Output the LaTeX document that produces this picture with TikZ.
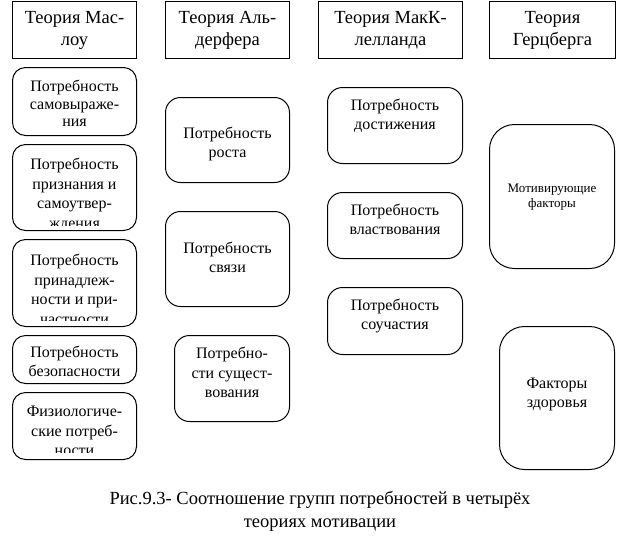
\documentclass[tikz,border=0pt]{standalone}
\usepackage{fontspec}
\setmainfont{Liberation Serif}
\usetikzlibrary{positioning}

\begin{document}
\begin{tikzpicture}[x=1pt, y=-1pt, line width=1pt,
  theory/.style={draw, rectangle, anchor=north west, minimum height=57pt,
                 align=center, inner sep=0pt, font=\fontsize{18.5}{22}\selectfont},
  needbox/.style={draw, rectangle, rounded corners=13pt, anchor=north west, inner sep=0pt},
  needtext/.style={align=center, inner sep=0pt, font=\fontsize{16}{18.5}\selectfont},
  widetext/.style={needtext, font=\fontsize{16}{19.5}\selectfont},
]
  \useasboundingbox (0,0) rectangle (624,542);

  % headers of the four theories
  \node[theory, minimum width=124pt] (hm) at (12,1)  {Теория Мас-\\лоу};
  \node[theory, minimum width=124pt] (ha) at (165,1) {Теория Аль-\\дерфера};
  \node[theory, minimum width=144pt] (hc) at (318,1) {Теория МакК-\\лелланда};
  \node[theory, minimum width=126pt] (hz) at (489,1) {Теория\\Герцберга};

  % Maslow
  \node[needbox, minimum width=124pt, minimum height=68pt] (m1) at (12,67)  {};
  \node[needbox, minimum width=124pt, minimum height=86pt] (m2) at (12,144) {};
  \node[needbox, minimum width=124pt, minimum height=87pt] (m3) at (12,239) {};
  \node[needbox, minimum width=124pt, minimum height=48pt] (m4) at (12,335) {};
  \node[needbox, minimum width=124pt, minimum height=67pt] (m5) at (12,392) {};
  \node[needtext, font=\fontsize{16}{17.4}\selectfont, below=13pt of m1.north] (m1t) {Потребность\\самовыраже-\\ния};
  \begin{scope}
    \clip (m2.north west) rectangle ([yshift=6pt]m2.south east);
    \node[widetext, below=14pt of m2.north] (m2t) {Потребность\\признания и\\самоутвер-\\ждения};
  \end{scope}
  \begin{scope}
    \clip (m3.north west) rectangle ([yshift=7pt]m3.south east);
    \node[widetext, below=15pt of m3.north] (m3t) {Потребность\\принадлеж-\\ности и при-\\частности};
  \end{scope}
  \node[needtext, below=11pt of m4.north] (m4t) {Потребность\\безопасности};
  \begin{scope}
    \clip (m5.north west) rectangle ([yshift=8pt]m5.south east);
    \node[widetext, below=14pt of m5.north] (m5t) {Физиологиче-\\ские потреб-\\ности};
  \end{scope}

  % Alderfer
  \node[needbox, rounded corners=15pt, minimum width=124pt, minimum height=85pt] (a1) at (165,97)  {};
  \node[needbox, rounded corners=15pt, minimum width=124pt, minimum height=95pt] (a2) at (165,211) {};
  \node[needbox, rounded corners=15pt, minimum width=115pt, minimum height=86pt] (a3) at (174,335) {};
  \node[needtext, below=30pt of a1.north] (a1t) {Потребность\\роста};
  \node[needtext, below=31pt of a2.north] (a2t) {Потребность\\связи};
  \node[widetext, below=12pt of a3.north] (a3t) {Потребно-\\сти сущест-\\вования};

  % McClelland
  \node[needbox, rounded corners=15pt, minimum width=135pt, minimum height=76pt] (c1) at (327,87)  {};
  \node[needbox, rounded corners=15pt, minimum width=135pt, minimum height=66pt] (c2) at (327,192) {};
  \node[needbox, rounded corners=15pt, minimum width=135pt, minimum height=67pt] (c3) at (327,287) {};
  \node[needtext, below=12pt of c1.north] (c1t) {Потребность\\достижения};
  \node[needtext, below=12pt of c2.north] (c2t) {Потребность\\властвования};
  \node[needtext, below=12pt of c3.north] (c3t) {Потребность\\соучастия};

  % Herzberg
  \node[needbox, rounded corners=25pt, minimum width=125pt, minimum height=144pt] (z1) at (489,124) {};
  \node[needbox, rounded corners=25pt, minimum width=115pt, minimum height=143pt] (z2) at (499,326) {};
  \node[needtext, font=\fontsize{13}{15}\selectfont, below=59pt of z1.north] (z1t) {Мотивирующие\\факторы};
  \node[needtext, below=52pt of z2.north] (z2t) {Факторы\\здоровья};

  % caption
  \node[align=center, inner sep=0pt, anchor=north, font=\fontsize{18.5}{23}\selectfont] (cap) at (320,491)
    {Рис.9.3- Соотношение групп потребностей в четырёх\\теориях мотивации};
\end{tikzpicture}
\end{document}
